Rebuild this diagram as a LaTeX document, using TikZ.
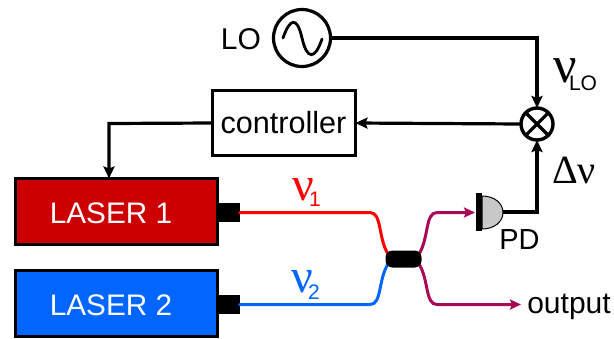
\documentclass[tikz,border=0pt]{standalone}
\usepackage{fontspec}
\setmainfont{Liberation Sans}
\newfontfamily\nufont{Liberation Serif}
\usetikzlibrary{arrows.meta}
\definecolor{laserred}{RGB}{204,0,0}
\definecolor{fibred}{RGB}{255,0,0}
\definecolor{laserblue}{RGB}{0,102,255}
\definecolor{fibmix}{RGB}{168,8,88}
\definecolor{pdgray}{RGB}{200,200,200}
\tikzset{
  x=1bp,y=-1bp,
  every node/.style={inner sep=0pt,outer sep=0pt},
  wire/.style={line width=3.2bp,black,line join=miter},
  tip/.style={-{Stealth[length=12bp,width=11bp,inset=2bp]}},
  boxed/.style={draw=black,line width=3.6bp,rectangle},
  laserbox/.style={boxed,minimum width=202bp,minimum height=66bp},
  lasertext/.style={text=white,font=\fontsize{29.7bp}{32bp}\selectfont,anchor=base},
  port/.style={fill=black,minimum width=23bp,minimum height=19.5bp},
  fiber/.style={line width=3bp,line cap=round},
  txt/.style={font=\fontsize{30bp}{32bp}\selectfont},
  round/.style={circle,draw=black},
  nu/.style={font=\fontsize{48bp}{50bp}\nufont},
  subs/.style={font=\fontsize{21bp}{22bp}\selectfont,anchor=base},
}
\begin{document}
\begin{tikzpicture}
\useasboundingbox (0,0) rectangle (614,338);
% lasers
\node[laserbox,fill=laserred] (l1) at (116.5,211.5) {};
\node[laserbox,fill=laserblue] (l2) at (116.5,303.5) {};
\node[lasertext] (l1t) at (111,223) {LASER 1};
\node[lasertext] (l2t) at (111,315) {LASER 2};
\node[port] (p1) at (228,212.5) {};
\node[port] (p2) at (228,304.5) {};
% coupler anchors
\coordinate (cpa) at (388,254);
\coordinate (cpb) at (388,264);
\coordinate (cpc) at (419,254);
\coordinate (cpd) at (419,264);
% controller, LO, mixer
\node[boxed,minimum width=143bp,minimum height=65bp,font=\fontsize{30.6bp}{32bp}\selectfont] (ctrl) at (284,123) {\kern-1bp controller};
\node[round,line width=3.2bp,minimum size=57bp] (lo) at (302,38) {};
\node[round,line width=3.4bp,minimum size=32bp] (mx) at (537,124) {};
\draw[line width=3.2bp] (mx.45) -- (mx.225) (mx.135) -- (mx.315);
\node[txt,anchor=base] (lolab) at (241,49) {LO};
\draw[line width=2.8bp,line cap=round] (283,38) .. controls (290,18) and (297,16) .. (302,38) .. controls (307,60) and (315,60) .. (322,39);
% photodiode
\coordinate (pdout) at (503,212);
\draw[wire] (pdout) -- +(10,0);
\filldraw[fill=pdgray,draw=black,line width=1bp] (482,196) .. controls (494,196) and (503,203) .. (503,212.5) .. controls (503,222) and (494,229) .. (482,229) -- cycle;
\node[fill=black,minimum width=5.5bp,minimum height=38bp] (pdbar) at (479,212) {};
\node[font=\fontsize{29bp}{30bp}\selectfont,anchor=base] (pdlab) at (519.5,249) {PD};
% wires
\coordinate (c1) at (537,38);
\draw[wire,tip] (lo.east) -- (c1) -- (mx.north);
\draw[wire,tip] (mx.west) -- (ctrl.east);
\coordinate (c2) at (109,123.5);
\draw[wire,tip] (ctrl.west) -- (c2) -- (l1.north -| c2);
\coordinate (c3) at (537,212);
\draw[wire,tip] (pdout) -- (c3) -- (mx.south);
% fibers
\coordinate (r1) at (370,212.5);
\coordinate (b1) at (370,304.5);
\coordinate (t2) at (437,212.5);
\coordinate (o2) at (437,304.5);
\coordinate (pdin) at (475,212.5);
\coordinate (oend) at (521,304.5);
\draw[fiber,fibred] (p1.east) -- (r1) .. controls (382,212.5) and (378,238) .. (cpa);
\draw[fiber,laserblue] (p2.east) -- (b1) .. controls (382,304.5) and (378,280) .. (cpb);
\draw[fiber,fibmix,-{Stealth[length=11bp,width=10bp,inset=2bp]}] (cpc) .. controls (429,238) and (425,212.5) .. (t2) -- (pdin);
\draw[fiber,fibmix,-{Stealth[length=11bp,width=10bp,inset=2bp]}] (cpd) .. controls (429,280) and (425,304.5) .. (o2) -- (oend);
\node[fill=black,rounded corners=7bp,minimum width=36bp,minimum height=17bp] (cp) at (403.5,259) {};
% labels
\node[txt,anchor=base] (outlab) at (569,313) {output};
\node[nu,text=fibred,anchor=base] (n1) at (303,200) {ν};
\node[subs,text=fibred] (n1s) at (315,206) {1};
\node[nu,text=laserblue,anchor=base] (n2) at (302,292) {ν};
\node[subs,text=laserblue] (n2s) at (314,299) {2};
\node[font=\fontsize{52bp}{54bp}\nufont,anchor=base] (nl) at (565,82) {ν};
\node[subs] (nls) at (583,90) {LO};
\node[font=\fontsize{40bp}{42bp}\nufont,anchor=base] (dn) at (574,183) {Δν};
\end{tikzpicture}
\end{document}
